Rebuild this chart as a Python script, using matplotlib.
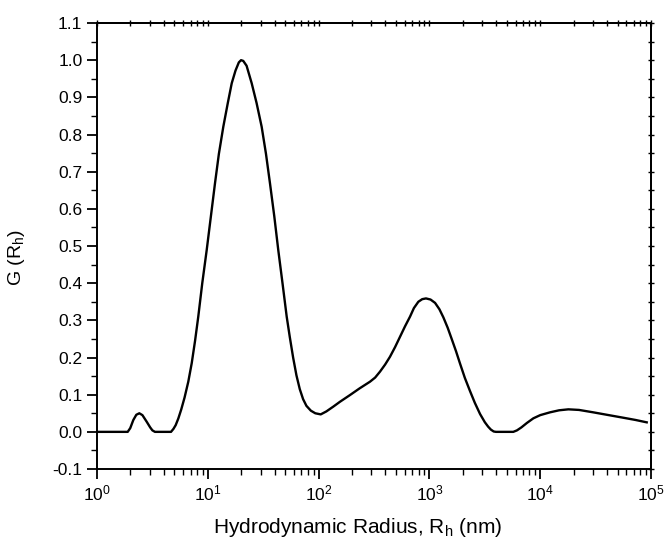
import matplotlib
matplotlib.use("Agg")
import matplotlib.pyplot as plt
import numpy as np
from matplotlib.ticker import LogLocator, MultipleLocator, LogFormatterMathtext, NullFormatter

plt.rcParams['font.family'] = ['Liberation Sans', 'DejaVu Sans']
plt.rcParams['mathtext.fontset'] = 'custom'
plt.rcParams['mathtext.rm'] = 'Liberation Sans'
plt.rcParams['mathtext.it'] = 'Liberation Sans:italic'
plt.rcParams['mathtext.bf'] = 'Liberation Sans:bold'

# Data: log10 of hydrodynamic radius (nm) and G(Rh)
log_radius = [0.000, 0.150, 0.277, 0.300, 0.328, 0.355, 0.382, 0.410, 0.448, 0.480, 0.500, 0.523,
              0.600, 0.668, 0.690, 0.710, 0.734, 0.760, 0.790, 0.824, 0.855, 0.885, 0.914,
              0.950, 0.990, 1.030, 1.065, 1.100, 1.140, 1.180, 1.216, 1.250, 1.280, 1.300,
              1.320, 1.350, 1.396, 1.440, 1.486, 1.525, 1.561, 1.600, 1.636, 1.675, 1.712,
              1.740, 1.770, 1.800, 1.830, 1.860, 1.890, 1.930, 1.970, 2.019, 2.070, 2.133,
              2.193, 2.283, 2.370, 2.464, 2.510, 2.554, 2.600, 2.644, 2.690, 2.735, 2.780,
              2.825, 2.860, 2.900, 2.935, 2.969, 3.010, 3.051, 3.090, 3.126, 3.165, 3.201,
              3.240, 3.276, 3.320, 3.366, 3.410, 3.457, 3.500, 3.530, 3.555, 3.580, 3.600,
              3.700, 3.757, 3.790, 3.830, 3.880, 3.938, 4.000, 4.088, 4.170, 4.254, 4.350,
              4.479, 4.600, 4.750, 4.860, 4.961]
g_values = [0.000, 0.000, 0.000, 0.010, 0.032, 0.046, 0.050, 0.045, 0.0275, 0.012, 0.004, 0.000,
            0.000, 0.000, 0.008, 0.018, 0.036, 0.060, 0.092, 0.135, 0.185, 0.245, 0.310,
            0.400, 0.489, 0.585, 0.669, 0.748, 0.821, 0.884, 0.938, 0.972, 0.994, 1.000,
            0.998, 0.985, 0.938, 0.885, 0.821, 0.748, 0.669, 0.580, 0.489, 0.398, 0.310,
            0.255, 0.200, 0.152, 0.115, 0.088, 0.070, 0.057, 0.050, 0.047, 0.055, 0.068,
            0.081, 0.099, 0.117, 0.135, 0.146, 0.162, 0.181, 0.202, 0.228, 0.256, 0.284,
            0.310, 0.333, 0.350, 0.357, 0.359, 0.356, 0.347, 0.330, 0.308, 0.280, 0.250,
            0.217, 0.184, 0.145, 0.110, 0.078, 0.048, 0.026, 0.014, 0.006, 0.001, 0.000,
            0.000, 0.000, 0.004, 0.012, 0.024, 0.0364, 0.045, 0.0525, 0.058, 0.0606, 0.059,
            0.0525, 0.046, 0.038, 0.032, 0.0256]

radius_nm = np.power(10.0, log_radius)

x_label = "Hydrodynamic Radius, R$_\\mathregular{h}$ (nm)"
y_label = "G (R$_\\mathregular{h}$)"

fig = plt.figure(figsize=(6.68, 5.45), dpi=100)
ax = fig.add_axes([0.1452, 0.1394, 0.8294, 0.8184])

ax.plot(radius_nm, g_values, color='black', lw=1.7, solid_joinstyle='round')

ax.set_xscale('log')
ax.set_xlim(1, 1e5)
ax.set_ylim(-0.1, 1.1)
ax.xaxis.set_major_locator(LogLocator(base=10, numticks=10))
ax.xaxis.set_minor_locator(LogLocator(base=10, subs=range(2, 10), numticks=20))
ax.xaxis.set_major_formatter(LogFormatterMathtext())
ax.xaxis.set_minor_formatter(NullFormatter())
ax.yaxis.set_major_locator(MultipleLocator(0.1))
ax.yaxis.set_minor_locator(MultipleLocator(0.05))
ax.yaxis.set_major_formatter(plt.FuncFormatter(lambda v, p: f"{v:.1f}"))

for s in ax.spines.values():
    s.set_linewidth(1.4)

ax.tick_params(which='major', direction='out', length=7, width=1.3, labelsize=12.5,
               top=False, right=False)
ax.tick_params(which='minor', direction='out', length=4, width=1.0, top=False, right=False)

ax_t = ax.secondary_xaxis('top')
ax_t.xaxis.set_major_locator(LogLocator(base=10, numticks=10))
ax_t.xaxis.set_minor_locator(LogLocator(base=10, subs=range(2, 10), numticks=20))
ax_t.tick_params(which='both', direction='inout', length=4, width=1.0, labeltop=False)
ax_t.spines['top'].set_linewidth(1.4)
ax_r = ax.secondary_yaxis('right')
ax_r.yaxis.set_major_locator(MultipleLocator(0.1))
ax_r.yaxis.set_minor_locator(MultipleLocator(0.05))
ax_r.tick_params(which='both', direction='inout', length=4, width=1.0, labelright=False)
ax_r.spines['right'].set_linewidth(1.4)

ax.set_xlabel(x_label, fontsize=15)
ax.set_ylabel(y_label, fontsize=14)
ax.xaxis.set_label_coords(0.471, -0.105)
ax.yaxis.set_label_coords(-0.126, 0.473)

fig.savefig("out.png", dpi=100)
